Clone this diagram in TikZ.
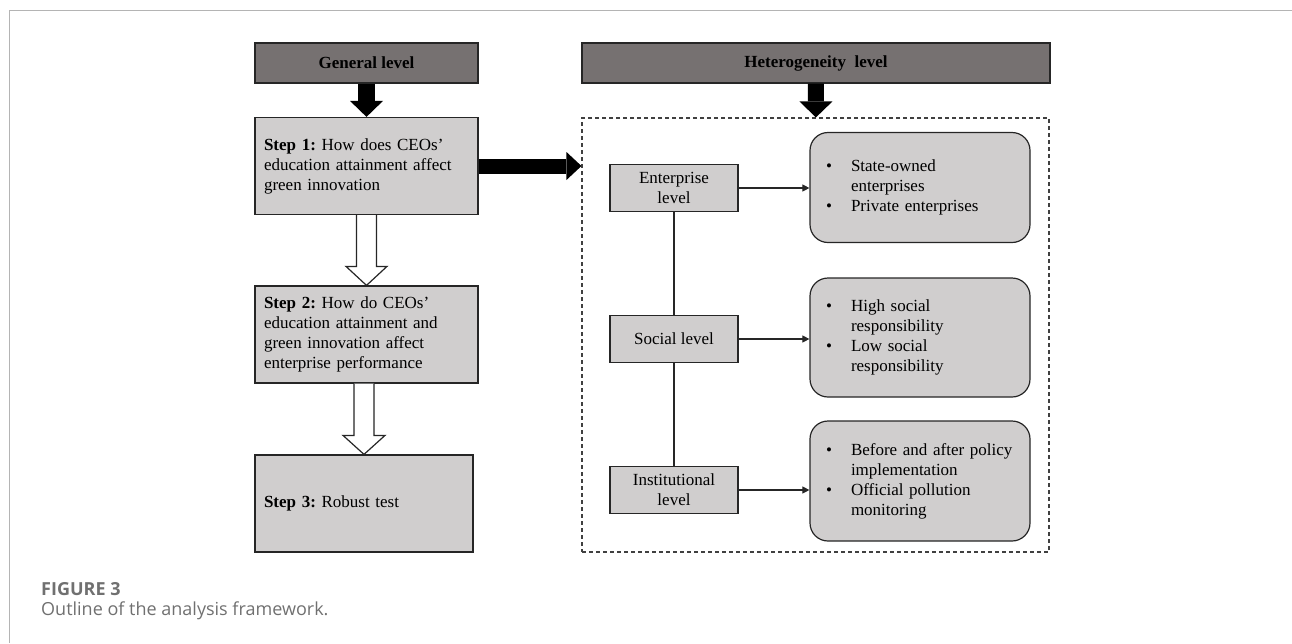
\documentclass[tikz,border=0pt]{standalone}
\usepackage{fontspec}
\setmainfont{Liberation Serif}
\newfontfamily\capfont{Open Sans}
\usepackage{tikz}
\usetikzlibrary{calc, positioning, arrows.meta}
\definecolor{headGrey}{HTML}{767171}
\definecolor{boxGrey}{HTML}{D0CECE}
\definecolor{edgeGrey}{HTML}{262626}
\definecolor{frameGrey}{HTML}{B4B4B4}
\definecolor{capGrey}{HTML}{707070}
\newcommand{\dfont}{\fontsize{17}{20}\selectfont}
\newcommand{\cfont}{\capfont\fontsize{18}{22}\selectfont}
\tikzset{
  head/.style    = {draw=edgeGrey, fill=headGrey, line width=1.2pt, minimum height=40pt,
                    font=\dfont\bfseries, inner sep=0pt},
  stepbox/.style = {draw=edgeGrey, fill=boxGrey, line width=1.2pt, minimum height=97pt,
                    text width=205pt, inner sep=9pt, align=left, font=\dfont},
  lvl/.style     = {draw=edgeGrey, fill=boxGrey, line width=1.2pt, minimum width=128pt,
                    minimum height=47pt, inner sep=2pt, align=center, font=\dfont},
  itembox/.style = {draw=edgeGrey, fill=boxGrey, line width=1.2pt, rounded corners=18pt,
                    text width=188pt, inner xsep=16pt, align=left, font=\dfont},
  zone/.style    = {draw=black!75, line width=1.1pt, dash pattern=on 4pt off 3pt,
                    minimum width=467pt, minimum height=434pt, inner sep=0pt},
  blk/.style     = {draw=black, line width=17pt,
                    -{Triangle[length=16pt, width=33pt, line width=0pt]}},
  hollow/.style  = {draw=edgeGrey, fill=white, line width=1.2pt, line join=miter},
  fl/.style      = {draw=edgeGrey, line width=1.1pt,
                    -{Triangle[length=7pt, width=7pt]}},
  ln/.style      = {draw=edgeGrey, line width=1.1pt}
}

\begin{document}
\frenchspacing
\begin{tikzpicture}[x=1pt, y=-1pt]
  \useasboundingbox (0,0) rectangle (1292,643);

  % --- page frame and caption
  \draw[frameGrey, line width=1.5pt] (9.5,643) -- (9.5,10.5) -- (1292,10.5);
  \node[anchor=base west, inner sep=0pt, text=capGrey, font=\cfont\bfseries]
       (fig) at (41,595) {FIGURE 3};
  \node[anchor=base west, inner sep=0pt, text=capGrey, font=\cfont]
       (cap) at (41,615) {Outline of the analysis framework.};

  % --- general level (left column)
  \node[head, minimum width=223pt] (gen) at (366.5,63) {General level};
  \node[stepbox] (s1) at (366.5,166)
       {\textbf{Step 1:} How does CEOs’\\education attainment affect\\green innovation};
  \node[stepbox] (s2) at (366.5,334.5)
       {\textbf{Step 2:} How do CEOs’\\education attainment and\\green innovation affect\\enterprise performance};
  \node[stepbox, text width=200pt] (s3) at (364,503.5) {\textbf{Step 3:} Robust test};

  % --- heterogeneity level (right part)
  \node[head, minimum width=468pt] (het) at (816,63) {Heterogeneity\ \ level};
  \node[zone] (zone) at (815.5,335) {};

  \node[lvl] (ent) at (674,188) {Enterprise\\level};
  \node[lvl] (soc) at (674,339) {Social level};
  \node[lvl] (ins) at (674,490) {Institutional\\level};

  \node[itembox, minimum height=110pt] (r1) at (920,187.5)
       {\begin{tabular}{@{}p{25pt}@{}l@{}}
        \textbullet & State-owned\\ & enterprises\\ \textbullet & Private enterprises
        \end{tabular}};
  \node[itembox, minimum height=119pt] (r2) at (920,337.5)
       {\begin{tabular}{@{}p{25pt}@{}l@{}}
        \textbullet & High social\\ & responsibility\\ \textbullet & Low social\\ & responsibility
        \end{tabular}};
  \node[itembox, minimum height=120pt] (r3) at (920,481)
       {\begin{tabular}{@{}p{25pt}@{}l@{}}
        \textbullet & Before and after policy\\ & implementation\\ \textbullet & Official pollution\\ & monitoring
        \end{tabular}};

  % --- block arrows
  \draw[blk] (gen) -- (s1);
  \draw[blk, line width=16pt] (het) -- (zone);
  \draw[blk, line width=15pt, -{Triangle[length=15pt, width=28pt, line width=0pt]}]
       (s1.east) -- (s1.east -| zone.west);
  \filldraw[hollow] ($(s1.south)+(-10,0)$) -- ($(s2.north)+(-10,-19)$) -- ($(s2.north)+(-20.5,-19)$)
       -- (s2.north) -- ($(s2.north)+(20.5,-19)$) -- ($(s2.north)+(10,-19)$) -- ($(s1.south)+(10,0)$);
  \filldraw[hollow] ($(s2.south -| s3.north)+(-10,0)$) -- ($(s3.north)+(-10,-19)$) -- ($(s3.north)+(-21,-19)$)
       -- (s3.north) -- ($(s3.north)+(21,-19)$) -- ($(s3.north)+(10,-19)$) -- ($(s2.south -| s3.north)+(10,0)$);

  % --- level links
  \draw[ln] (ent) -- (soc);
  \draw[ln] (soc) -- (ins);
  \draw[fl] (ent.east) -- (ent.east -| r1.west);
  \draw[fl] (soc.east) -- (soc.east -| r2.west);
  \draw[fl] (ins.east) -- (ins.east -| r3.west);
\end{tikzpicture}
\end{document}
